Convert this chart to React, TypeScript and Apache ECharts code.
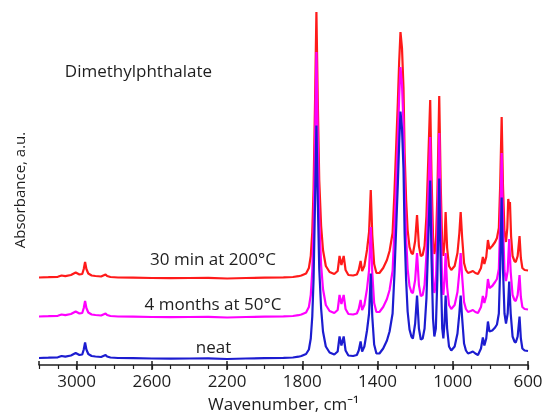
import React, { useEffect, useRef } from "react";
import * as echarts from "echarts";

// Wavenumber (cm^-1) and absorbance (a.u.) of each IR spectrum, baseline-relative
const neat: [number, number][] = [
  [3200, 0.005], [3150, 0.008], [3100, 0.012], [3080, 0.025], [3060, 0.018], [3030, 0.03],
  [3005, 0.055], [2985, 0.035], [2970, 0.04], [2962, 0.09], [2955, 0.16], [2948, 0.09],
  [2938, 0.045], [2920, 0.025], [2900, 0.02], [2870, 0.015], [2852, 0.03], [2846, 0.035],
  [2838, 0.02], [2820, 0.01], [2780, 0.005], [2700, 0.003], [2600, 0.0], [2500, -0.002],
  [2400, 0.0], [2300, 0.002], [2200, -0.005], [2100, 0.0], [2000, 0.003], [1900, 0.006],
  [1850, 0.01], [1820, 0.018], [1805, 0.025], [1780, 0.045], [1765, 0.09], [1755, 0.2],
  [1747, 0.42], [1740, 0.8], [1732, 1.6], [1725, 2.33], [1718, 1.6], [1710, 0.9],
  [1700, 0.5], [1690, 0.27], [1675, 0.12], [1655, 0.06], [1630, 0.04], [1612, 0.07],
  [1602, 0.22], [1592, 0.13], [1580, 0.22], [1570, 0.08], [1555, 0.03], [1530, 0.025],
  [1510, 0.035], [1500, 0.08], [1490, 0.17], [1482, 0.07], [1470, 0.12], [1456, 0.28],
  [1445, 0.45], [1436, 0.85], [1428, 0.42], [1418, 0.14], [1406, 0.05], [1390, 0.05],
  [1370, 0.1], [1350, 0.18], [1336, 0.27], [1320, 0.45], [1310, 0.85], [1300, 1.35],
  [1292, 1.75], [1285, 2.15], [1278, 2.47], [1270, 2.3], [1262, 1.9], [1256, 1.25],
  [1248, 0.78], [1240, 0.47], [1230, 0.29], [1220, 0.22], [1212, 0.2], [1200, 0.35],
  [1190, 0.63], [1180, 0.3], [1170, 0.19], [1160, 0.2], [1150, 0.3], [1140, 0.6],
  [1130, 1.2], [1120, 1.78], [1113, 1.0], [1105, 0.4], [1098, 0.22], [1090, 0.3],
  [1082, 0.8], [1072, 1.8], [1064, 0.9], [1056, 0.3], [1050, 0.2], [1044, 0.35],
  [1038, 0.63], [1030, 0.3], [1020, 0.12], [1008, 0.08], [990, 0.12], [975, 0.25],
  [965, 0.45], [958, 0.63], [950, 0.4], [940, 0.15], [930, 0.08], [919, 0.05],
  [905, 0.06], [893, 0.07], [880, 0.05], [866, 0.035], [850, 0.1], [840, 0.21],
  [832, 0.13], [822, 0.2], [813, 0.37], [805, 0.27], [790, 0.28], [775, 0.31],
  [765, 0.34], [755, 0.45], [748, 0.9], [740, 1.61], [733, 0.9], [725, 0.45],
  [717, 0.35], [708, 0.45], [700, 0.77], [692, 0.45], [682, 0.22], [672, 0.17],
  [665, 0.16], [655, 0.22], [645, 0.42], [638, 0.2], [630, 0.1], [618, 0.08], [600, 0.075],
];

const aged50: [number, number][] = [
  [3200, 0.005], [3150, 0.008], [3100, 0.012], [3080, 0.025], [3060, 0.018], [3030, 0.03],
  [3005, 0.055], [2985, 0.035], [2970, 0.04], [2962, 0.09], [2955, 0.16], [2948, 0.09],
  [2938, 0.045], [2920, 0.025], [2900, 0.02], [2870, 0.015], [2852, 0.03], [2846, 0.035],
  [2838, 0.02], [2820, 0.01], [2780, 0.005], [2700, 0.003], [2600, 0.0], [2500, -0.002],
  [2400, 0.0], [2300, 0.002], [2200, -0.005], [2100, 0.0], [2000, 0.003], [1900, 0.006],
  [1850, 0.01], [1820, 0.018], [1805, 0.025], [1780, 0.045], [1765, 0.1], [1755, 0.22],
  [1747, 0.46], [1740, 0.9], [1732, 1.8], [1725, 2.65], [1718, 1.8], [1710, 0.98],
  [1700, 0.52], [1690, 0.28], [1675, 0.12], [1655, 0.06], [1630, 0.04], [1612, 0.07],
  [1602, 0.22], [1592, 0.13], [1580, 0.22], [1570, 0.08], [1555, 0.03], [1530, 0.025],
  [1510, 0.035], [1500, 0.08], [1490, 0.17], [1482, 0.07], [1470, 0.12], [1456, 0.28],
  [1445, 0.47], [1436, 0.9], [1428, 0.44], [1418, 0.14], [1406, 0.05], [1390, 0.05],
  [1370, 0.1], [1350, 0.18], [1336, 0.27], [1320, 0.46], [1310, 0.87], [1300, 1.38],
  [1292, 1.78], [1285, 2.2], [1278, 2.5], [1270, 2.33], [1262, 1.92], [1256, 1.27],
  [1248, 0.79], [1240, 0.48], [1230, 0.31], [1220, 0.25], [1212, 0.24], [1200, 0.37],
  [1190, 0.64], [1180, 0.32], [1170, 0.21], [1160, 0.22], [1150, 0.32], [1140, 0.62],
  [1130, 1.22], [1120, 1.8], [1113, 1.02], [1105, 0.42], [1098, 0.24], [1090, 0.32],
  [1082, 0.82], [1072, 1.84], [1064, 0.92], [1056, 0.32], [1050, 0.22], [1044, 0.36],
  [1038, 0.64], [1030, 0.3], [1020, 0.12], [1008, 0.08], [990, 0.12], [975, 0.25],
  [965, 0.45], [958, 0.64], [950, 0.4], [940, 0.15], [930, 0.08], [919, 0.05],
  [905, 0.06], [893, 0.07], [880, 0.05], [866, 0.04], [850, 0.1], [840, 0.21],
  [832, 0.14], [822, 0.21], [813, 0.38], [805, 0.29], [790, 0.31], [775, 0.35],
  [765, 0.38], [755, 0.48], [748, 0.92], [740, 1.64], [733, 0.92], [725, 0.46],
  [717, 0.36], [708, 0.46], [700, 0.78], [692, 0.45], [682, 0.22], [672, 0.17],
  [665, 0.16], [655, 0.22], [645, 0.42], [638, 0.2], [630, 0.1], [618, 0.08], [600, 0.075],
];

const heated200: [number, number][] = [
  [3200, 0.005], [3150, 0.008], [3100, 0.012], [3080, 0.025], [3060, 0.018], [3030, 0.03],
  [3005, 0.055], [2985, 0.035], [2970, 0.04], [2962, 0.09], [2955, 0.16], [2948, 0.09],
  [2938, 0.045], [2920, 0.025], [2900, 0.02], [2870, 0.015], [2852, 0.03], [2846, 0.035],
  [2838, 0.02], [2820, 0.01], [2780, 0.005], [2700, 0.003], [2600, 0.0], [2500, -0.002],
  [2400, 0.0], [2300, 0.002], [2200, -0.005], [2100, 0.0], [2000, 0.003], [1900, 0.006],
  [1850, 0.01], [1820, 0.018], [1805, 0.025], [1780, 0.045], [1765, 0.1], [1755, 0.22],
  [1747, 0.46], [1740, 0.9], [1732, 1.8], [1725, 2.66], [1718, 1.8], [1710, 0.98],
  [1700, 0.52], [1690, 0.28], [1675, 0.12], [1655, 0.06], [1630, 0.04], [1612, 0.07],
  [1602, 0.22], [1592, 0.13], [1580, 0.22], [1570, 0.08], [1555, 0.03], [1530, 0.025],
  [1510, 0.035], [1500, 0.08], [1490, 0.17], [1482, 0.07], [1470, 0.12], [1456, 0.28],
  [1445, 0.46], [1436, 0.88], [1428, 0.43], [1418, 0.14], [1406, 0.05], [1390, 0.05],
  [1370, 0.1], [1350, 0.18], [1336, 0.27], [1320, 0.45], [1310, 0.86], [1300, 1.36],
  [1292, 1.76], [1285, 2.16], [1278, 2.46], [1270, 2.3], [1262, 1.9], [1256, 1.25],
  [1248, 0.78], [1240, 0.48], [1230, 0.31], [1220, 0.25], [1212, 0.24], [1200, 0.37],
  [1190, 0.63], [1180, 0.32], [1170, 0.22], [1160, 0.23], [1150, 0.32], [1140, 0.62],
  [1130, 1.2], [1120, 1.78], [1113, 1.02], [1105, 0.42], [1098, 0.24], [1090, 0.32],
  [1082, 0.82], [1072, 1.82], [1064, 0.92], [1056, 0.32], [1050, 0.22], [1044, 0.36],
  [1038, 0.66], [1030, 0.3], [1020, 0.12], [1008, 0.08], [990, 0.12], [975, 0.25],
  [965, 0.45], [958, 0.66], [950, 0.4], [940, 0.15], [930, 0.08], [919, 0.05],
  [905, 0.06], [893, 0.07], [880, 0.05], [866, 0.04], [850, 0.1], [840, 0.21],
  [832, 0.14], [822, 0.21], [813, 0.38], [805, 0.29], [790, 0.32], [775, 0.36],
  [765, 0.4], [755, 0.5], [748, 0.92], [740, 1.61], [733, 0.92], [725, 0.46],
  [717, 0.36], [710, 0.5], [705, 0.79], [700, 0.72], [696, 0.76], [690, 0.42],
  [682, 0.22], [672, 0.17], [665, 0.16], [655, 0.22], [645, 0.42], [638, 0.2],
  [630, 0.1], [618, 0.08], [600, 0.075],
];

// Vertical stacking offsets of the three spectra
const offsetNeat = 0.065;
const offsetAged50 = 0.48;
const offsetHeated200 = 0.87;

const majorTicks = [600, 1000, 1400, 1800, 2200, 2600, 3000];

const FONT = "'Open Sans', 'Noto Sans', sans-serif";
const TEXT = "#1e1e1e";

const shift = (pts: [number, number][], off: number) => pts.map(([x, y]) => [x, y + off]);

export default function App() {
  const ref = useRef<HTMLDivElement>(null);

  useEffect(() => {
    if (!ref.current) return;
    const chart = echarts.init(ref.current, undefined, { renderer: "svg" });

    const baseX = {
      type: "value" as const,
      min: 600,
      max: 3200,
      inverse: true,
      gridIndex: 0,
      position: "bottom" as const,
      splitLine: { show: false },
    };

    const label = (text: string, x: number, y: number) => ({
      type: "text" as const,
      x,
      y,
      style: { text, font: `17px ${FONT}`, fill: TEXT, align: "center", verticalAlign: "middle" },
    });

    chart.setOption({
      animation: false,
      grid: { left: 39, right: 20, top: 5, bottom: 54 },
      xAxis: [
        {
          ...baseX,
          interval: 400,
          axisLine: { show: true, onZero: false, lineStyle: { color: TEXT, width: 1.5 } },
          axisTick: { show: true, length: 5, lineStyle: { color: TEXT, width: 1.5 } },
          axisLabel: {
            show: true,
            showMaxLabel: false,
            margin: 7,
            fontSize: 17,
            fontFamily: FONT,
            color: TEXT,
            formatter: (v: number) => (majorTicks.includes(v) ? String(v) : ""),
          },
          name: "Wavenumber, cm⁻¹",
          nameLocation: "middle",
          nameGap: 30,
          nameTextStyle: { fontSize: 17, fontFamily: FONT, color: TEXT },
        },
        {
          ...baseX,
          interval: 100,
          axisLine: { show: false, onZero: false },
          axisTick: { show: true, length: 4, lineStyle: { color: TEXT, width: 1.2 } },
          axisLabel: { show: false },
        },
        {
          ...baseX,
          interval: 400,
          axisLine: { show: false, onZero: false },
          axisTick: { show: true, inside: true, length: 4, lineStyle: { color: TEXT, width: 1.5 } },
          axisLabel: { show: false },
        },
      ],
      yAxis: { type: "value", min: 0, max: 3.6, show: false },
      series: [
        {
          name: "30 min at 200°C",
          type: "line",
          data: shift(heated200, offsetHeated200),
          showSymbol: false,
          lineStyle: { color: "#ff1a1a", width: 2.2 },
        },
        {
          name: "4 months at 50°C",
          type: "line",
          data: shift(aged50, offsetAged50),
          showSymbol: false,
          lineStyle: { color: "#ff00ff", width: 2.2 },
        },
        {
          name: "neat",
          type: "line",
          data: shift(neat, offsetNeat),
          showSymbol: false,
          lineStyle: { color: "#1c1cd0", width: 2.2 },
        },
      ],
      graphic: [
        label("Dimethylphthalate", 138.5, 70),
        label("30 min at 200°C", 213, 258),
        label("4 months at 50°C", 213, 303),
        label("neat", 213.5, 346),
        {
          type: "text",
          x: 19,
          y: 190,
          rotation: Math.PI / 2,
          style: { text: "Absorbance, a.u.", font: `15px ${FONT}`, fill: TEXT, align: "center", verticalAlign: "middle" },
        },
      ],
    });

    return () => chart.dispose();
  }, []);

  return <div ref={ref} style={{ position: "fixed", left: 0, top: 0, width: 548, height: 419 }} />;
}
